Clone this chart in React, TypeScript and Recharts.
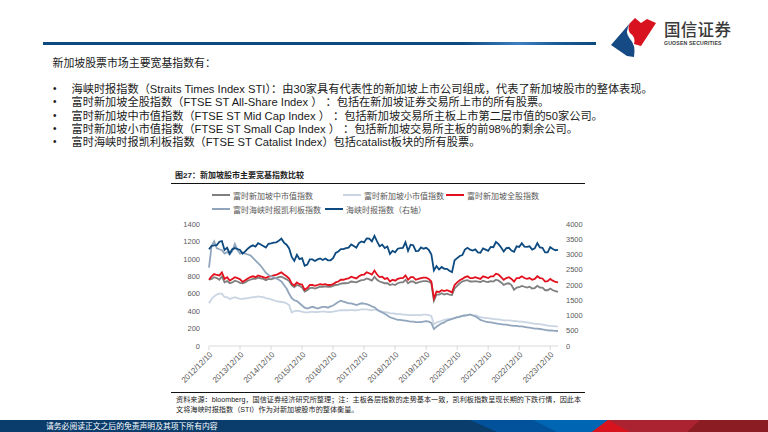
import React from 'react';
import { LineChart, Line, XAxis, YAxis, Legend } from 'recharts';

const tickLabels = [
  '2012/12/10', '2013/12/10', '2014/12/10', '2015/12/10', '2016/12/10', '2017/12/10',
  '2018/12/10', '2019/12/10', '2020/12/10', '2021/12/10', '2022/12/10', '2023/12/10',
];

// monthly points, Dec 2012 .. Mar 2024
const midCap = [
  760,
  770, 790, 780, 760, 800, 730, 745, 720, 730, 750, 740, 725,
  720, 730, 750, 760, 770, 770, 785, 775, 770, 755, 770, 765,
  775, 780, 790, 795, 780, 765, 745, 695, 675, 700, 690, 670,
  625, 640, 665, 670, 660, 670, 680, 680, 685, 680, 680, 690,
  700, 705, 715, 720, 720, 725, 740, 735, 730, 745, 755, 760,
  775, 765, 750, 795, 760, 740, 730, 720, 720, 700, 710, 700,
  720, 730, 730, 760, 720, 740, 740, 720, 730, 740, 745, 745,
  740, 720, 520, 590, 590, 605, 590, 600, 590, 585, 660, 690,
  720, 740, 750, 755, 740, 740, 745, 740, 735, 750, 740, 735,
  745, 740, 760, 750, 730, 700, 715, 720, 700, 645, 670, 675,
  690, 680, 670, 680, 660, 665, 690, 670, 670, 640, 640, 660,
  640, 630, 620,
];

const smallCap = [
  490,
  540, 570, 590, 600, 600, 560, 560, 540, 550, 560, 550, 540,
  540, 545, 550, 555, 560, 560, 570, 565, 560, 550, 545, 535,
  525, 515, 510, 505, 500, 490, 470, 385, 400, 405, 400, 395,
  385, 385, 390, 395, 390, 390, 395, 395, 395, 390, 390, 395,
  400, 405, 410, 410, 410, 410, 415, 410, 410, 415, 420, 420,
  420, 415, 410, 420, 410, 400, 395, 390, 385, 375, 375, 370,
  365, 365, 360, 360, 355, 355, 355, 355, 355, 355, 360, 360,
  355, 345, 250, 270, 280, 290, 300, 305, 310, 315, 320, 330,
  340, 345, 350, 355, 360, 355, 350, 340, 330, 325, 320, 320,
  315, 310, 305, 305, 300, 295, 295, 295, 290, 285, 285, 280,
  280, 275, 270, 265, 260, 255, 255, 250, 245, 240, 235, 230,
  228, 226, 225,
];

const allShare = [
  760,
  800, 825, 815, 810, 845, 770, 790, 750, 770, 790, 780, 765,
  735, 755, 775, 790, 800, 790, 810, 800, 790, 780, 795, 800,
  810, 815, 830, 845, 820, 800, 775, 715, 695, 730, 710, 705,
  645, 665, 700, 700, 690, 700, 710, 705, 710, 700, 700, 710,
  730, 740, 760, 760, 770, 775, 795, 785, 775, 800, 815, 820,
  845, 835, 820, 865, 820, 790, 795, 770, 780, 740, 760, 750,
  770, 780, 780, 810, 760, 790, 790, 760, 770, 780, 785, 785,
  770, 740, 545, 625, 620, 640, 630, 640, 630, 615, 700, 730,
  755, 770, 790, 800, 780, 780, 790, 780, 770, 800, 790, 780,
  800, 800, 830, 820, 790, 760, 780, 790, 770, 740, 780, 780,
  800, 780, 770, 780, 760, 770, 800, 780, 775, 740, 745, 770,
  750, 735, 730,
];

const catalist = [
  900,
  1150, 1200, 1120, 1110, 1100, 1060, 1080, 1050, 1090, 1170, 1100, 1060,
  1070, 1060, 1050, 1040, 1010, 980, 950, 920, 880, 840, 815, 800,
  790, 775, 760, 740, 700, 660, 600, 550, 525, 515, 490, 465,
  440, 430, 440, 450, 440, 430, 440, 450, 450, 440, 455, 465,
  485, 505, 520, 510, 500, 490, 490, 480, 470, 480, 490, 485,
  480, 470, 455, 445, 420, 400, 385, 370, 350, 330, 320, 310,
  300, 300, 295, 290, 285, 280, 280, 275, 275, 275, 280, 285,
  280, 265, 195, 220, 240, 260, 270, 290, 300, 310, 320, 330,
  335, 345, 350, 355, 362, 350, 340, 320, 300, 290, 280, 275,
  270, 265, 260, 255, 250, 245, 245, 240, 235, 230, 230, 225,
  225, 220, 215, 210, 205, 200, 200, 195, 190, 185, 180, 178,
  176, 174, 172,
];

const sti = [
  3170,
  3280, 3300, 3310, 3420, 3440, 3150, 3220, 3030, 3170, 3210, 3180, 3150,
  3030, 3100, 3190, 3260, 3300, 3260, 3370, 3330, 3280, 3230, 3350, 3365,
  3390, 3400, 3450, 3520, 3390, 3320, 3200, 2920, 2790, 2990, 2850, 2880,
  2630, 2670, 2840, 2840, 2790, 2840, 2870, 2820, 2870, 2810, 2810, 2880,
  3050, 3100, 3175, 3175, 3210, 3225, 3330, 3280, 3220, 3375, 3430, 3400,
  3530, 3520, 3430, 3610, 3430, 3270, 3320, 3210, 3260, 3020, 3120, 3070,
  3190, 3210, 3220, 3400, 3120, 3320, 3300, 3110, 3120, 3230, 3190, 3220,
  3150, 3010, 2480, 2620, 2510, 2590, 2530, 2530, 2470, 2420, 2810, 2880,
  2950, 2980, 3160, 3220, 3160, 3130, 3170, 3070, 3060, 3200, 3160, 3120,
  3250, 3240, 3410, 3340, 3230, 3100, 3210, 3220, 3130, 3090, 3270, 3250,
  3370, 3260, 3250, 3270, 3160, 3200, 3370, 3230, 3220, 3070, 3070, 3240,
  3180, 3140, 3150,
];

const leftTicks = [0, 200, 400, 600, 800, 1000, 1200, 1400];
const rightTicks = [0, 500, 1000, 1500, 2000, 2500, 3000, 3500, 4000];
const xTicks = [0, 12, 24, 36, 48, 60, 72, 84, 96, 108, 120, 132];

const seriesNames = {
  mid: '富时新加坡中市值指数',
  small: '富时新加坡小市值指数',
  all: '富时新加坡全股指数',
  cat: '富时海峡时报凯利板指数',
  sti: '海峡时报指数（右轴）',
};

const colors = {
  mid: '#7f7f7f',
  small: '#c9d5e2',
  all: '#e3101e',
  cat: '#91a6bc',
  sti: '#0d4a80',
};

const data = sti.map((v, i) => ({
  i,
  mid: midCap[i],
  small: smallCap[i],
  all: allShare[i],
  cat: catalist[i],
  sti: v,
}));

const FONT = "'Liberation Sans', Arial, 'Noto Sans CJK SC', sans-serif";

const legendLayout = [
  { key: 'mid', x: 42, y: 9 },
  { key: 'small', x: 173, y: 9 },
  { key: 'all', x: 276, y: 9 },
  { key: 'cat', x: 42, y: 23 },
  { key: 'sti', x: 155, y: 23 },
];

const renderLegend = () => (
  <div style={{ position: 'relative', width: 425, height: 30 }}>
    {legendLayout.map((it) => (
      <div
        key={it.key}
        style={{
          position: 'absolute',
          left: it.x,
          top: it.y - 6,
          height: 12,
          display: 'flex',
          alignItems: 'center',
          whiteSpace: 'nowrap',
        }}
      >
        <span
          style={{
            display: 'inline-block',
            width: 18,
            height: 2,
            background: (colors as any)[it.key],
            marginRight: 3,
          }}
        />
        <span style={{ fontSize: 8, color: '#595959', fontFamily: FONT }}>
          {(seriesNames as any)[it.key]}
        </span>
      </div>
    ))}
  </div>
);

const bullets = [
  '海峡时报指数（Straits Times Index STI）：由30家具有代表性的新加坡上市公司组成，代表了新加坡股市的整体表现。',
  '富时新加坡全股指数（FTSE ST All-Share Index ） ：包括在新加坡证券交易所上市的所有股票。',
  '富时新加坡中市值指数（FTSE ST Mid Cap Index ） ：包括新加坡交易所主板上市第二层市值的50家公司。',
  '富时新加坡小市值指数（FTSE ST Small Cap Index ） ：包括新加坡交易所主板的前98%的剩余公司。',
  '富时海峡时报凯利板指数（FTSE ST Catalist Index）包括catalist板块的所有股票。',
];
const bulletY = [89, 102, 115.5, 129, 142];

export default function App() {
  return (
    <div
      style={{
        position: 'absolute',
        left: 0,
        top: 0,
        width: 768,
        height: 432,
        background: '#ffffff',
        overflow: 'hidden',
        fontFamily: FONT,
      }}
    >
      {/* header bar */}
      <div
        style={{
          position: 'absolute',
          left: 43,
          top: 41.5,
          width: 553,
          height: 3,
          background:
            'linear-gradient(90deg, #0d4a7f 0%, #0d4a7f 76%, #3d7fc2 86%, #1a5a96 93%, #0d4a7f 100%)',
        }}
      />
      {/* logo */}
      <svg style={{ position: 'absolute', left: 0, top: 0 }} width={768} height={60}>
        <path d="M611,45 L630,23 Q624,32 630,39 Q636,45 634,57 L627,56 Z" fill="#154a85" />
        <path d="M630,23 L635,18 L641,23 L647,19 L656,23 L641,46 L634,44 Q636,37 630,33 Q627,28 630,23 Z" fill="#d9121f" />
      </svg>
      <div
        style={{
          position: 'absolute',
          left: 664,
          top: 20,
          fontSize: 16.5,
          lineHeight: '18px',
          color: '#3a3a3a',
          fontFamily: "'Noto Sans CJK SC', sans-serif",
          fontWeight: 500,
          letterSpacing: 0.3,
          whiteSpace: 'nowrap',
        }}
      >
        国信证券
      </div>
      <div
        style={{
          position: 'absolute',
          left: 664,
          top: 39.5,
          fontSize: 5.2,
          lineHeight: '6px',
          color: '#3a3a3a',
          fontWeight: 700,
          fontFamily: "'Liberation Sans Narrow', 'Liberation Sans', sans-serif",
          letterSpacing: 0.15,
          whiteSpace: 'nowrap',
        }}
      >
        GUOSEN SECURITIES
      </div>

      {/* intro text */}
      <div
        style={{
          position: 'absolute',
          left: 52.5,
          top: 63 - 8,
          fontSize: 10.9,
          lineHeight: '16px',
          color: '#1a1a1a',
          whiteSpace: 'nowrap',
        }}
      >
        新加坡股票市场主要宽基指数有：
      </div>
      {bullets.map((b, k) => (
        <React.Fragment key={k}>
          <div
            style={{
              position: 'absolute',
              left: 53,
              top: bulletY[k] - 8,
              fontSize: 10,
              lineHeight: '16px',
              color: '#1a1a1a',
            }}
          >
            •
          </div>
          <div
            style={{
              position: 'absolute',
              left: 71.5,
              top: bulletY[k] - 8,
              fontSize: 11.2,
              lineHeight: '16px',
              color: '#1a1a1a',
              whiteSpace: 'nowrap',
            }}
          >
            {b}
          </div>
        </React.Fragment>
      ))}

      {/* chart title */}
      <div
        style={{
          position: 'absolute',
          left: 175,
          top: 171,
          fontSize: 8,
          lineHeight: '10px',
          color: '#222',
          fontWeight: 700,
          whiteSpace: 'nowrap',
        }}
      >
        图27：新加坡股市主要宽基指数比较
      </div>
      <div style={{ position: 'absolute', left: 171, top: 182.5, width: 414, height: 1.2, background: '#111' }} />

      {/* chart */}
      <div style={{ position: 'absolute', left: 170, top: 186 }}>
        <LineChart
          width={425}
          height={209}
          data={data}
          margin={{ top: 38, right: 0, bottom: 0, left: 0 }}
        >
          <XAxis
            dataKey="i"
            type="number"
            domain={[0, 135]}
            ticks={xTicks}
            tickFormatter={(v: number) => tickLabels[Math.round(v / 12)] ?? ''}
            interval={0}
            angle={-45}
            textAnchor="end"
            height={49}
            stroke="#d9d9d9"
            tickSize={4}
            tickMargin={1}
            tick={{ fontSize: 8, fill: '#595959', fontFamily: FONT }}
          />
          <YAxis
            yAxisId="left"
            domain={[0, 1400]}
            ticks={leftTicks}
            width={39}
            axisLine={false}
            tickLine={false}
            tickSize={6}
            tickMargin={3}
            interval={0}
            tick={{ fontSize: 7.5, fill: '#595959', fontFamily: FONT }}
          />
          <YAxis
            yAxisId="right"
            orientation="right"
            domain={[0, 4000]}
            ticks={rightTicks}
            width={37}
            axisLine={false}
            tickLine={false}
            tickSize={6}
            tickMargin={2}
            interval={0}
            tick={{ fontSize: 7.5, fill: '#595959', fontFamily: FONT }}
          />
          <Legend
            layout="horizontal"
            verticalAlign="middle"
            align="center"
            content={renderLegend}
            wrapperStyle={{ top: 0, left: 0, width: 425, height: 30 }}
          />
          <Line yAxisId="left" type="linear" dataKey="mid" name={seriesNames.mid} stroke={colors.mid} strokeWidth={1.8} dot={false} isAnimationActive={false} />
          <Line yAxisId="left" type="linear" dataKey="small" name={seriesNames.small} stroke={colors.small} strokeWidth={1.8} dot={false} isAnimationActive={false} />
          <Line yAxisId="left" type="linear" dataKey="all" name={seriesNames.all} stroke={colors.all} strokeWidth={1.8} dot={false} isAnimationActive={false} />
          <Line yAxisId="left" type="linear" dataKey="cat" name={seriesNames.cat} stroke={colors.cat} strokeWidth={1.8} dot={false} isAnimationActive={false} />
          <Line yAxisId="right" type="linear" dataKey="sti" name={seriesNames.sti} stroke={colors.sti} strokeWidth={1.8} dot={false} isAnimationActive={false} />
        </LineChart>
      </div>

      {/* source note */}
      <div style={{ position: 'absolute', left: 171, top: 392, width: 414, height: 1.2, background: '#111' }} />
      <div
        style={{
          position: 'absolute',
          left: 176,
          top: 395,
          fontSize: 7.15,
          lineHeight: '10px',
          color: '#222',
          whiteSpace: 'nowrap',
        }}
      >
        资料来源：bloomberg，国信证券经济研究所整理；注：主板各层指数的走势基本一致，凯利板指数呈现长期的下跌行情，因此本
        <br />
        文将海峡时报指数（STI）作为对新加坡股市的整体衡量。
      </div>

      {/* footer */}
      <svg style={{ position: 'absolute', left: 0, top: 420 }} width={768} height={12}>
        <rect x={0} y={0} width={768} height={12} fill="#0b3d6c" />
        <polygon points="470,0 768,0 768,12 497,12" fill="#02519b" />
        <polygon points="533,0 768,0 768,12 557,12" fill="#0066b3" />
        <polygon points="608,0 768,0 768,12 592,12" fill="#ab2330" />
        <polygon points="608,0 630,12 592,12" fill="#d7141e" />
        <polygon points="700,0 768,0 768,12 687,12" fill="#8c1c24" />
      </svg>
      <div
        style={{
          position: 'absolute',
          left: 46,
          top: 421,
          fontSize: 7.8,
          lineHeight: '11px',
          color: '#ffffff',
          whiteSpace: 'nowrap',
        }}
      >
        请务必阅读正文之后的免责声明及其项下所有内容
      </div>
    </div>
  );
}
